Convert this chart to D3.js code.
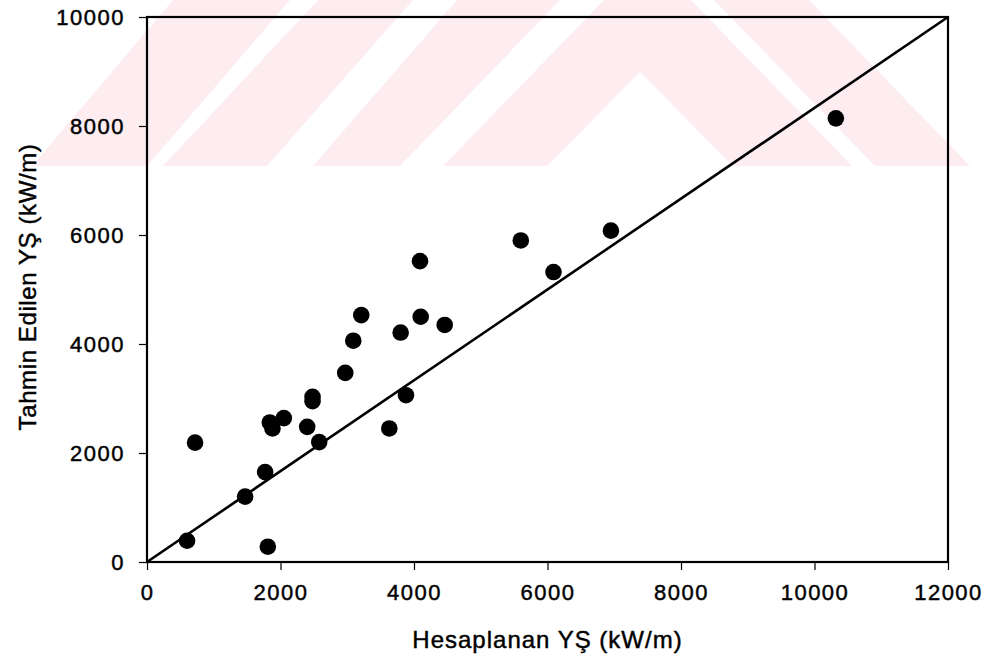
<!DOCTYPE html>
<html>
<head>
<meta charset="utf-8">
<script src="https://cdn.jsdelivr.net/npm/d3@7"></script>
<style>
  html, body { margin: 0; padding: 0; background: #fff; }
  svg { display: block; font-family: "Liberation Sans", Arial, Helvetica, sans-serif; }
</style>
</head>
<body>
<div id="chart"></div>
<script>
// values
const hesaplanan = [600, 720, 1470, 1770, 1810, 1840, 1880, 2050, 2400, 2480, 2480, 2580, 2970,
                    3090, 3210, 3630, 3800, 3880, 4100, 4090, 4460, 5600, 6090, 6950, 10320];
const tahmin     = [390, 2190, 1200, 1650, 280, 2560, 2450, 2640, 2480, 3030, 2950, 2200, 3470,
                    4060, 4530, 2450, 4210, 3060, 4500, 5520, 4350, 5900, 5320, 6080, 8140];
const lineX = [0, 12000];
const lineY = [0, 10000];
const xTicks = [0, 2000, 4000, 6000, 8000, 10000, 12000];
const yTicks = [0, 2000, 4000, 6000, 8000, 10000];
const xTitle = "Hesaplanan YŞ (kW/m)";
const yTitle = "Tahmin Edilen YŞ (kW/m)";

renderChart();

function drawWatermark(svg) {
	// faint striped logo in the background of the scan
	let k = 0.97;
	let yb = 166;
	let shapes = [
		[[32, yb], [147, yb], [290, 0], [173, 0]],
		[[163, yb], [267, yb], [413, 0], [318, 0]],
		[[313, yb], [400, yb], [560, 0], [457, 0]],
		[[443, yb], [443 + k * yb, 0], [852 - k * yb, 0], [852, yb], [733, yb], [640, 72], [547, yb]],
		[[714, 0], [809, 0], [970, yb], [875, yb]]
	];
	svg.append("g").attr("class", "watermark")
		.selectAll("polygon").data(shapes).join("polygon")
		.attr("points", d => d.map(p => p.join(",")).join(" "))
		.attr("fill", "#fdecf0");
}

function styleText(sel, size, spacing) {
	//scan makes the type look heavier, a thin stroke gives that
	sel.attr("font-size", size)
		.attr("letter-spacing", spacing)
		.attr("fill", "#000")
		.attr("stroke", "#000")
		.attr("stroke-width", 0.45);
}

function renderChart() {
	let width = 992, height = 659;
	let margin = { left: 147, right: 44, top: 17, bottom: 97 };

	let svg = d3.select("#chart").append("svg")
		.attr("width", width)
		.attr("height", height);

	drawWatermark(svg);

	let x = d3.scaleLinear().domain([0, 12000]).range([margin.left, width - margin.right]);
	let y = d3.scaleLinear().domain([0, 10000]).range([height - margin.bottom, margin.top]);

	//x axis
	let xAxis = svg.append("g")
		.attr("transform", "translate(0," + (height - margin.bottom) + ")")
		.call(d3.axisBottom(x).tickValues(xTicks).tickFormat(d3.format("d"))
			.tickSize(8).tickSizeOuter(0).tickPadding(14));
	xAxis.select(".domain").remove();
	xAxis.selectAll(".tick line").attr("stroke", "#000").attr("stroke-width", 1.2);
	styleText(xAxis.selectAll("text"), 22, "1.5px");

	//y axis
	let yAxis = svg.append("g")
		.attr("transform", "translate(" + margin.left + ",0)")
		.call(d3.axisLeft(y).tickValues(yTicks).tickFormat(d3.format("d"))
			.tickSize(8).tickSizeOuter(0).tickPadding(14));
	yAxis.select(".domain").remove();
	yAxis.selectAll(".tick line").attr("stroke", "#000").attr("stroke-width", 1.2);
	styleText(yAxis.selectAll("text"), 22, "1.5px");

	//frame round the plot
	svg.append("rect")
		.attr("x", x(0))
		.attr("y", y(10000))
		.attr("width", x(12000) - x(0))
		.attr("height", y(0) - y(10000))
		.attr("fill", "none")
		.attr("stroke", "#000")
		.attr("stroke-width", 2.2);

	//diagonal line
	let line = d3.line()
		.x(d => x(d[0]))
		.y(d => y(d[1]));
	svg.append("path")
		.attr("d", line(d3.zip(lineX, lineY)))
		.attr("fill", "none")
		.attr("stroke", "#000")
		.attr("stroke-width", 2.6);

	//points
	svg.append("g").selectAll("circle")
		.data(d3.zip(hesaplanan, tahmin))
		.join("circle")
		.attr("cx", d => x(d[0]))
		.attr("cy", d => y(d[1]))
		.attr("r", 8.3)
		.attr("fill", "#000");

	//titles
	let xt = svg.append("text")
		.attr("x", (x(0) + x(12000)) / 2)
		.attr("y", 648)
		.attr("text-anchor", "middle")
		.text(xTitle);
	styleText(xt, 24, "1px");

	let yt = svg.append("text")
		.attr("transform", "translate(36," + 287 + ") rotate(-90)")
		.attr("text-anchor", "middle")
		.text(yTitle);
	styleText(yt, 24, "0.6px");
}
</script>
</body>
</html>
